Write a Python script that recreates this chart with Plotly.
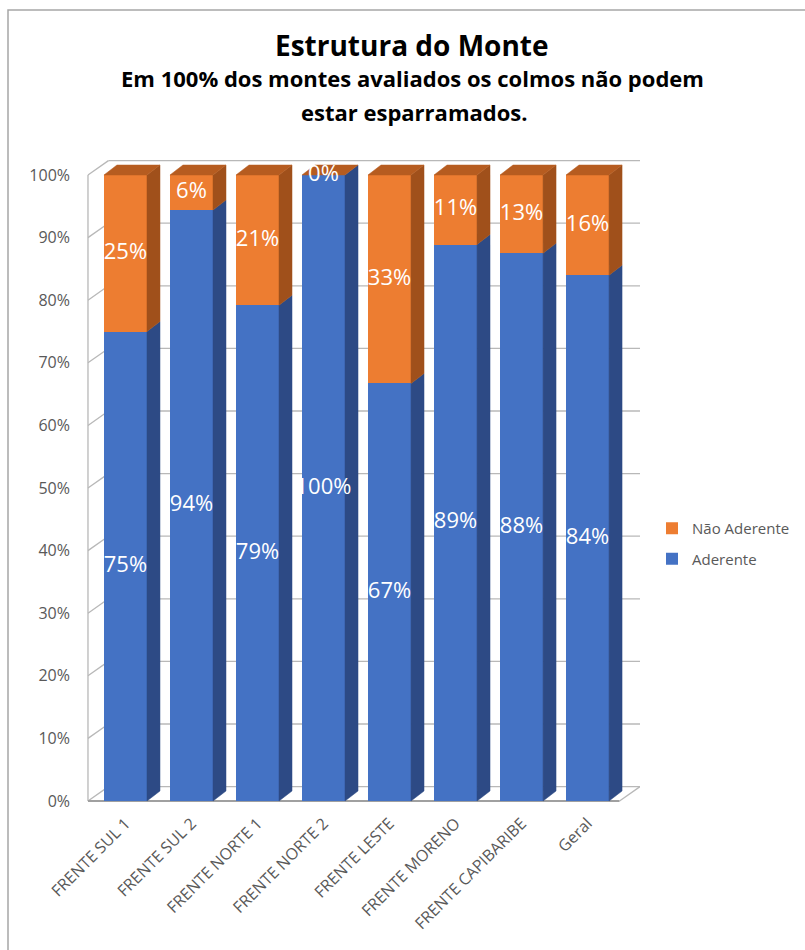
import plotly.graph_objects as go

# ---------------- data ----------------
categories = ["FRENTE SUL 1", "FRENTE SUL 2", "FRENTE NORTE 1", "FRENTE NORTE 2",
              "FRENTE LESTE", "FRENTE MORENO", "FRENTE CAPIBARIBE", "Geral"]
aderente = [75.0, 94.4, 79.2, 100.0, 66.7, 88.9, 87.5, 84.0]
nao_aderente = [25.0, 5.6, 20.8, 0.0, 33.3, 11.1, 12.5, 16.0]
y_ticks = [0, 10, 20, 30, 40, 50, 60, 70, 80, 90, 100]
y_tick_labels = ["0%", "10%", "20%", "30%", "40%", "50%", "60%", "70%", "80%", "90%", "100%"]

# ---------------- geometry / style ----------------
W, H = 805, 950
ML, MR, MT, MB = 86, 165, 160, 147
PW, PH = W - ML - MR, H - MT - MB
X_RANGE = [-0.598, 7.795]
Y_RANGE = [-0.32, 102.4]
BAR_W = 0.652
BAR_DX, BAR_DY = 0.197, 1.6
WALL_DX, WALL_DY = 0.31, 2.3
X_FRONT_LEFT = -0.568

BLUE, BLUE_SIDE = "#4472C4", "#2D4A85"
ORANGE, ORANGE_SIDE, ORANGE_TOP = "#ED7D31", "#A0501B", "#B65C20"
GRID = "#b8b8b8"
TXT = "#595959"
FONT = "Open Sans"


def px_x(p):
    return (p - ML) / PW


def px_y(p):
    return (H - MB - p) / PH


def pct(v):
    return f"{int(v + 0.5)}%"


xs = list(range(len(categories)))
fig = go.Figure()

# front faces (stacked bars)
fig.add_trace(go.Bar(x=xs, y=aderente, name="Aderente", marker=dict(color=BLUE, line_width=0),
                     width=BAR_W, legendgroup="a", legendrank=2, hoverinfo="skip"))
fig.add_trace(go.Bar(x=xs, y=nao_aderente, name="Não Aderente", marker=dict(color=ORANGE, line_width=0),
                     width=BAR_W, legendgroup="n", legendrank=1, hoverinfo="skip"))

# 3D side and top faces
for i, (a, n) in enumerate(zip(aderente, nao_aderente)):
    xl, xr = i - BAR_W / 2, i + BAR_W / 2
    for y0, y1, col in [(0, a, BLUE_SIDE), (a, a + n, ORANGE_SIDE)]:
        if y1 > y0:
            fig.add_trace(go.Scatter(
                x=[xr, xr + BAR_DX, xr + BAR_DX, xr, xr],
                y=[y0, y0 + BAR_DY, y1 + BAR_DY, y1, y0],
                fill="toself", fillcolor=col, mode="lines", line=dict(width=0.5, color=col),
                showlegend=False, hoverinfo="skip"))
    top = a + n
    fig.add_trace(go.Scatter(
        x=[xl, xl + BAR_DX, xr + BAR_DX, xr, xl],
        y=[top, top + BAR_DY, top + BAR_DY, top, top],
        fill="toself", fillcolor=ORANGE_TOP, mode="lines", line=dict(width=0.5, color=ORANGE_TOP),
        showlegend=False, hoverinfo="skip"))

# data labels
lab_x, lab_y, lab_t = [], [], []
for i, (a, n) in enumerate(zip(aderente, nao_aderente)):
    lab_x += [i, i]
    lab_y += [a / 2, a + n / 2]
    lab_t += [pct(a), pct(n)]
fig.add_trace(go.Scatter(x=lab_x, y=lab_y, text=lab_t, mode="text",
                         textfont=dict(family=FONT, size=22, color="white"),
                         showlegend=False, hoverinfo="skip", cliponaxis=False))

# walls, gridlines, floor
shapes = []
for t in y_ticks:
    shapes.append(dict(type="line", xref="x", yref="y", layer="below",
                       x0=X_FRONT_LEFT + WALL_DX, x1=X_RANGE[1], y0=t + WALL_DY, y1=t + WALL_DY,
                       line=dict(color=GRID, width=1.3)))
    shapes.append(dict(type="line", xref="x", yref="y", layer="below",
                       x0=X_FRONT_LEFT, x1=X_FRONT_LEFT + WALL_DX, y0=t, y1=t + WALL_DY,
                       line=dict(color=GRID, width=1.3)))
shapes.append(dict(type="line", xref="x", yref="y", layer="below",
                   x0=X_FRONT_LEFT, x1=X_FRONT_LEFT, y0=0, y1=y_ticks[-1],
                   line=dict(color=GRID, width=1.3)))
shapes.append(dict(type="line", xref="x", yref="y", layer="below",
                   x0=X_FRONT_LEFT, x1=X_RANGE[1] - WALL_DX, y0=0, y1=0,
                   line=dict(color="#a0a0a0", width=2)))
shapes.append(dict(type="line", xref="x", yref="y", layer="below",
                   x0=X_RANGE[1] - WALL_DX, x1=X_RANGE[1], y0=0, y1=WALL_DY,
                   line=dict(color=GRID, width=1.3)))
# chart border
shapes.append(dict(type="rect", xref="paper", yref="paper",
                   x0=px_x(8), x1=px_x(840), y0=px_y(10), y1=px_y(990),
                   line=dict(color="#a6a6a6", width=1.5), fillcolor="rgba(0,0,0,0)"))

annotations = [
    dict(text="<b>Estrutura do Monte</b>", x=px_x(412), y=px_y(45), xref="paper", yref="paper",
         showarrow=False, xanchor="center", yanchor="middle",
         font=dict(family=FONT, size=28, color="black")),
    dict(text="<b>Em 100% dos montes avaliados os colmos não podem</b>", x=px_x(412), y=px_y(78),
         xref="paper", yref="paper", showarrow=False, xanchor="center", yanchor="middle",
         font=dict(family=FONT, size=22, color="black")),
    dict(text="<b>estar esparramados.</b>", x=px_x(414), y=px_y(112),
         xref="paper", yref="paper", showarrow=False, xanchor="center", yanchor="middle",
         font=dict(family=FONT, size=22, color="black")),
]

fig.update_layout(
    width=W, height=H, margin=dict(l=ML, r=MR, t=MT, b=MB, autoexpand=False),
    paper_bgcolor="white", plot_bgcolor="white",
    barmode="stack", bargap=0,
    shapes=shapes, annotations=annotations,
    showlegend=True,
    legend=dict(x=px_x(652), y=px_y(512), xanchor="left", yanchor="top",
                traceorder="grouped", tracegroupgap=8,
                font=dict(family=FONT, size=15, color=TXT), bgcolor="rgba(0,0,0,0)"),
    xaxis=dict(range=X_RANGE, tickvals=xs, ticktext=categories, tickangle=-45,
               showgrid=False, zeroline=False, showline=False, ticks="",
               ticklabelstandoff=7,
               tickfont=dict(family=FONT, size=16, color=TXT), fixedrange=True),
    yaxis=dict(range=Y_RANGE, tickvals=y_ticks, ticktext=y_tick_labels,
               showgrid=False, zeroline=False, showline=False, ticks="",
               ticklabelstandoff=15,
               tickfont=dict(family=FONT, size=16, color=TXT), fixedrange=True),
)

fig.write_html("out.html")
